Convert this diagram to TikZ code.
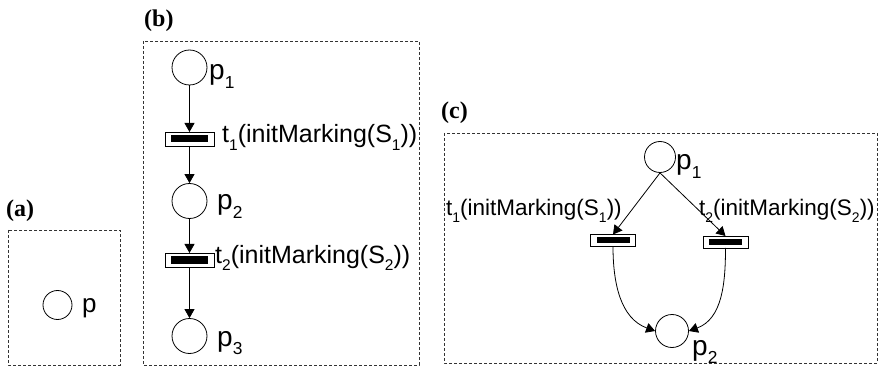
\documentclass[tikz,border=0pt]{standalone}
\usepackage{graphicx}
\usepackage{fontspec}
\setmainfont{Liberation Serif}
\setsansfont{Liberation Sans}
\usetikzlibrary{arrows.meta}
\newcommand\lsub[1]{\raisebox{-0.3em}{\scalebox{0.62}{#1}}}
\begin{document}
\begin{tikzpicture}[x=1pt,y=1pt,
 place/.style={circle,draw,line width=0.8pt,inner sep=0pt},
 trans/.style={draw,fill=white,line width=0.8pt,inner xsep=6pt,inner ysep=3.5pt,outer sep=0pt},
 transc/.style={trans,inner ysep=3pt},
 arc/.style={line width=0.8pt,-{Triangle[length=9pt,width=10pt]}},
 box/.style={draw=black!80,line width=0.8pt,dash pattern=on 3pt off 2pt},
 panel/.style={font=\fontsize{24}{26}\selectfont\bfseries,anchor=base west,inner sep=0pt},
 lblb/.style={anchor=base west,inner sep=0pt,font=\sffamily\fontsize{25}{28}\selectfont},
 lblc/.style={anchor=base west,inner sep=0pt,font=\sffamily\fontsize{22.5}{26}\selectfont},
 plbl/.style={anchor=base west,inner sep=0pt,font=\sffamily\fontsize{28}{30}\selectfont},
]
\useasboundingbox (0,0) rectangle (881,-366);
% panel (a)
\node[panel] (la) at (6,-217) {(a)};
\draw[box] (8,-230) rectangle (120,-365);
\node[place,minimum size=29pt] (ap) at (57.5,-305) {};
\node[plbl,font=\sffamily\fontsize{26}{28}\selectfont] (apl) at (82,-312) {p};
% panel (b)
\node[panel] (lb) at (144,-27) {(b)};
\draw[box] (143,-41) rectangle (419,-365);
\node[place,minimum size=35pt] (bp1) at (189.5,-67.5) {};
\node[place,minimum size=35pt] (bp2) at (189.5,-201) {};
\node[place,minimum size=35pt] (bp3) at (189.5,-336) {};
\node[trans] (bt1) at (189.5,-139) {\rule{37pt}{7pt}};
\node[trans] (bt2) at (189.5,-260) {\rule{37pt}{7pt}};
\node[plbl] (bp1l) at (209,-80) {p\lsub{1}};
\node[plbl] (bp2l) at (217,-210) {p\lsub{2}};
\node[plbl] (bp3l) at (217,-346) {p\lsub{3}};
\node[lblb] (bt1l) at (222,-143) {t\lsub{1}(initMarking(S\lsub{1}))};
\node[lblb] (bt2l) at (215,-263) {t\lsub{2}(initMarking(S\lsub{2}))};
\draw[arc] (bp1) -- (bt1);
\draw[arc] (bt1) -- (bp2);
\draw[arc] (bp2) -- (bt2);
\draw[arc] (bt2) -- (bp3);
% panel (c)
\node[panel] (lc) at (441,-119) {(c)};
\draw[box] (444,-133) rectangle (877,-363);
\node[place,minimum size=31pt] (cp1) at (660,-157) {};
\node[place,minimum size=33pt] (cp2) at (672,-331) {};
\node[transc] (ct1) at (613,-240.5) {\rule{33pt}{6pt}};
\node[transc] (ct2) at (725.5,-242) {\rule{33pt}{6pt}};
\node[plbl] (cp1l) at (676,-170) {p\lsub{1}};
\node[plbl] (cp2l) at (692,-355) {p\lsub{2}};
\node[lblc] (ct1l) at (446,-216) {t\lsub{1}(initMarking(S\lsub{1}))};
\node[lblc] (ct2l) at (699,-216) {t\lsub{2}(initMarking(S\lsub{2}))};
\draw[arc] (cp1.south) -- (ct1.north);
\draw[arc] (cp1.south) -- (ct2.north);
\draw[arc] (ct1.south) to[out=-90,in=160] (cp2.west);
\draw[arc] (ct2.south) to[out=-90,in=20] (cp2.east);
\end{tikzpicture}
\end{document}
